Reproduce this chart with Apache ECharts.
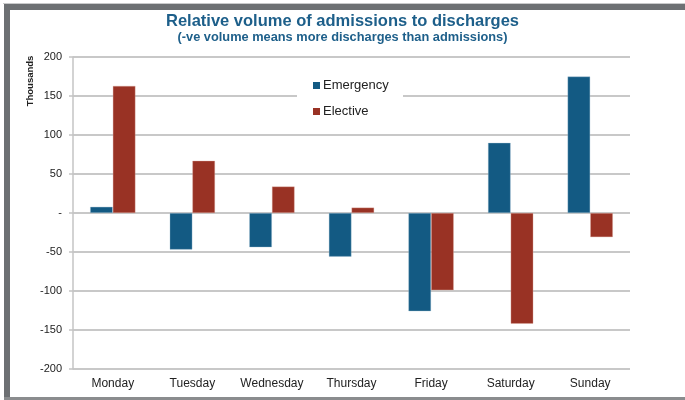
<!DOCTYPE html>
<html>
<head>
<meta charset="utf-8">
<script src="https://cdn.jsdelivr.net/npm/echarts@6/dist/echarts.min.js"></script>
<style>
  html, body { margin: 0; padding: 0; background: #ffffff; }
  #chart { width: 685px; height: 400px; }
</style>
</head>
<body>
<div id="chart"></div>
<script>
// Days of the week
const days = ['Monday', 'Tuesday', 'Wednesday', 'Thursday', 'Friday', 'Saturday', 'Sunday'];
// Admissions minus discharges, thousands
const emergency = [8, -47, -44, -56, -126, 90, 175];
const elective = [163, 67, 34, 7, -99, -142, -31];
// Value axis range and step
const yMin = -200;
const yMax = 200;
const yStep = 50;

const chart = echarts.init(document.getElementById('chart'), null, { renderer: 'canvas' });

const frameColor = '#6d7073';

chart.setOption({
  animation: false,
  backgroundColor: '#ffffff',
  textStyle: { fontFamily: 'Liberation Sans, Arial, sans-serif' },
  graphic: [
    { type: 'rect', shape: { x: 3, y: 3, width: 682, height: 1 }, style: { fill: '#c9cacb' }, silent: true },
    { type: 'rect', shape: { x: 4, y: 4, width: 681, height: 6 }, style: { fill: frameColor }, silent: true },
    { type: 'rect', shape: { x: 4, y: 4, width: 6, height: 394 }, style: { fill: frameColor }, silent: true },
    { type: 'rect', shape: { x: 4, y: 397, width: 681, height: 3 }, style: { fill: '#8a8c8e' }, silent: true },
    {
      type: 'text', left: 'center', top: 13,
      style: { text: 'Relative volume of admissions to discharges', fill: '#1d5f8a',
               font: 'bold 16.5px "Liberation Sans", Arial, sans-serif' }
    },
    {
      type: 'text', left: 'center', top: 31,
      style: { text: '(-ve volume means more discharges than admissions)', fill: '#1d5f8a',
               font: 'bold 12.8px "Liberation Sans", Arial, sans-serif' }
    },
    {
      type: 'rect', shape: { x: 297, y: 70, width: 106, height: 52 },
      style: { fill: '#ffffff' }, z: 5, silent: true
    },
    {
      type: 'text', x: 30, y: 81, rotation: Math.PI / 2,
      style: { text: 'Thousands', fill: '#222222', align: 'center', verticalAlign: 'middle',
               font: 'bold 9.5px "Liberation Sans", Arial, sans-serif' }
    }
  ],
  legend: {
    orient: 'vertical',
    left: 308,
    top: 74,
    itemGap: 13,
    itemWidth: 7,
    itemHeight: 7,
    icon: 'rect',
    z: 10,
    itemStyle: { borderWidth: 0 },
    textStyle: { fontSize: 13, color: '#222222', padding: [0, 0, 0, -2] },
    data: ['Emergency', 'Elective']
  },
  grid: { left: 73, right: 55, top: 57, bottom: 31, containLabel: false },
  xAxis: {
    type: 'category',
    data: days,
    position: 'bottom',
    axisLine: { show: false, onZero: false },
    axisTick: { show: false },
    axisLabel: { interval: 0, fontSize: 12, color: '#222222', margin: 9 }
  },
  yAxis: {
    type: 'value',
    min: yMin,
    max: yMax,
    interval: yStep,
    axisLine: { show: true, lineStyle: { color: '#c4c4c4', width: 1.5 } },
    axisTick: { show: true, length: 4, lineStyle: { color: '#c4c4c4', width: 1.5 } },
    axisLabel: {
      fontSize: 11, color: '#222222', margin: 11,
      formatter: v => (v === 0 ? '-' : String(v))
    },
    splitLine: { show: true, lineStyle: { color: '#c8c8c8', width: 2 } }
  },
  series: [
    {
      name: 'Emergency', type: 'bar', data: emergency,
      barGap: '0%', barCategoryGap: '43%',
      itemStyle: { color: '#135a83', borderColor: 'rgba(160,190,210,0.6)', borderWidth: 0.6 }
    },
    {
      name: 'Elective', type: 'bar', data: elective,
      barGap: '0%', barCategoryGap: '43%',
      itemStyle: { color: '#993224', borderColor: 'rgba(220,170,160,0.6)', borderWidth: 0.6 }
    }
  ]
});
</script>
</body>
</html>
